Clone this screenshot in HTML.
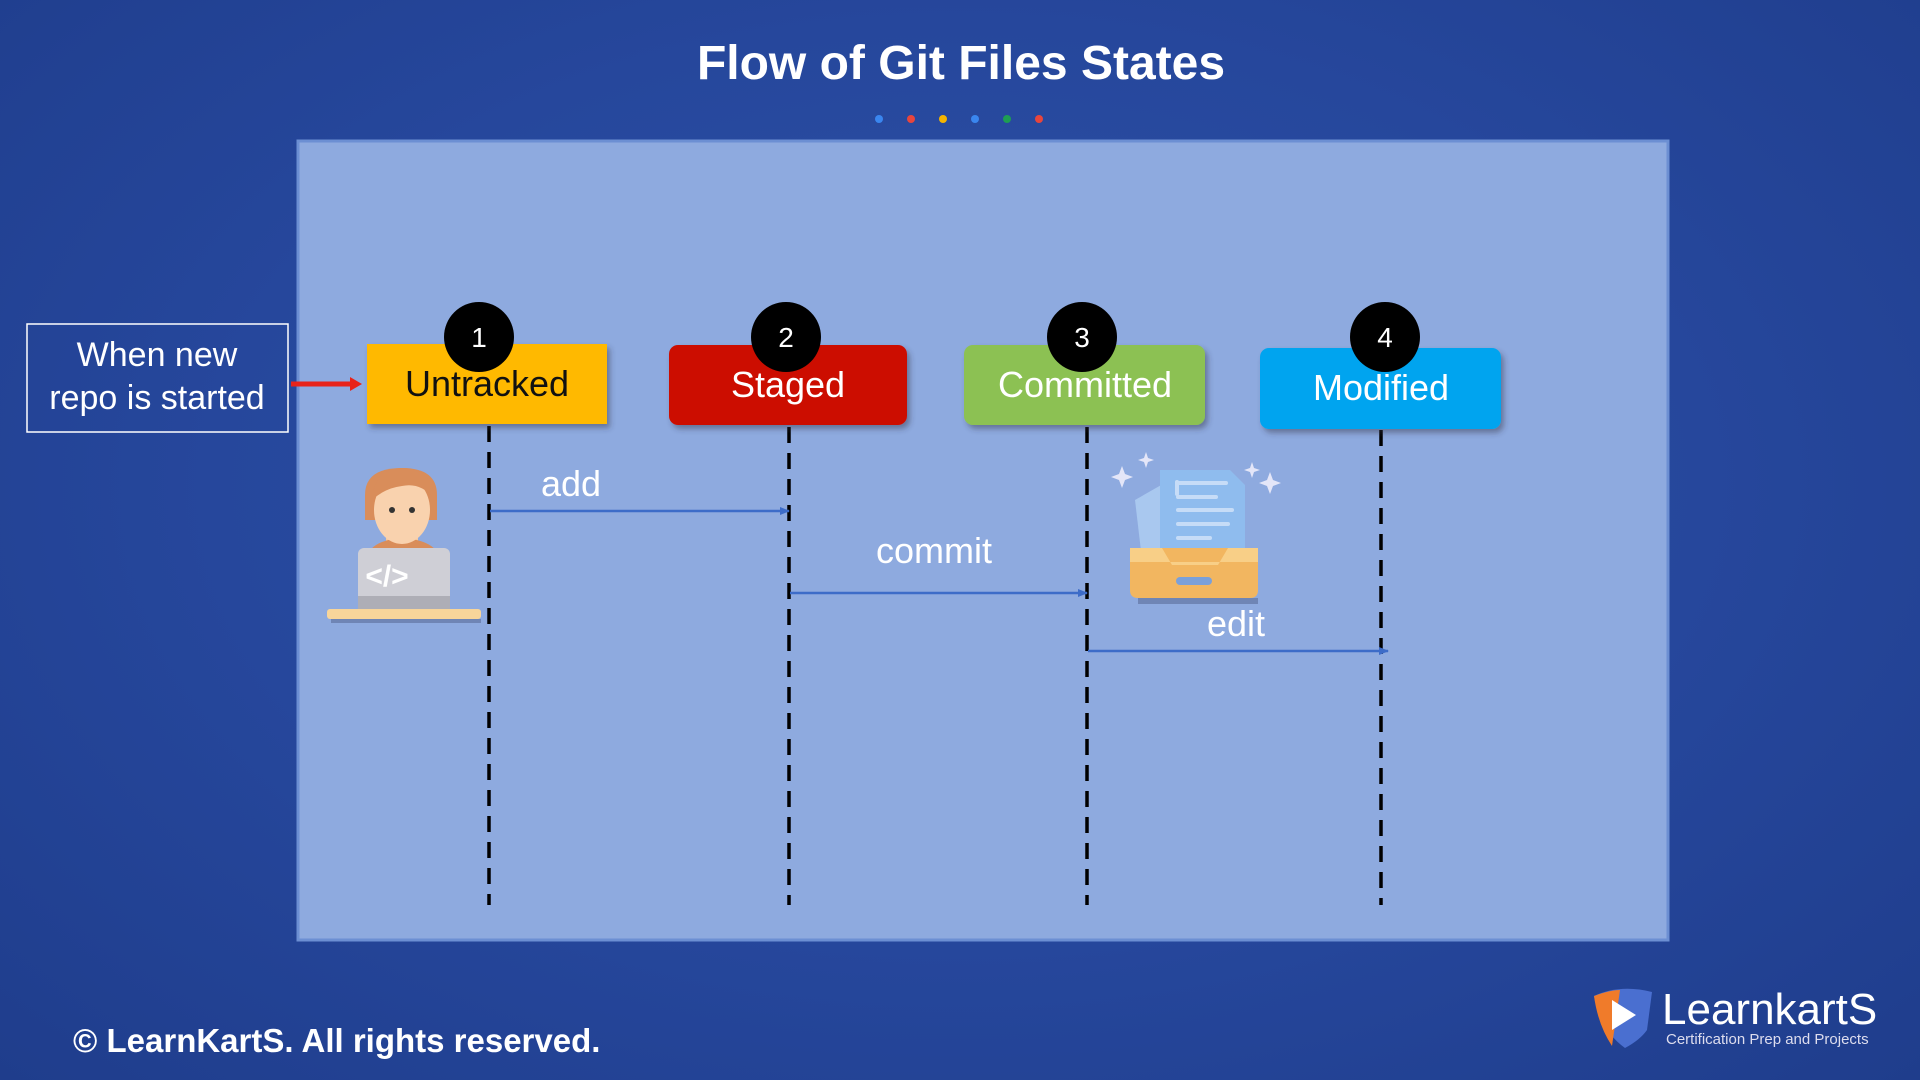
<!DOCTYPE html>
<html><head><meta charset="utf-8"><style>
html,body{margin:0;padding:0;width:1920px;height:1080px;overflow:hidden;}
body{background:radial-gradient(ellipse at 50% 45%,#2d52a8 0%,#26479c 55%,#1f3d8c 100%);font-family:"Liberation Sans",sans-serif;}
svg{position:absolute;left:0;top:0;}
</style></head><body>
<svg width="1920" height="1080" viewBox="0 0 1920 1080" xmlns="http://www.w3.org/2000/svg">
<defs>
<filter id="sh" x="-10%" y="-10%" width="130%" height="140%"><feDropShadow dx="3" dy="4" stdDeviation="3" flood-color="#334" flood-opacity="0.45"/></filter>
<marker id="ah" markerWidth="10" markerHeight="10" refX="9" refY="5" orient="auto" markerUnits="userSpaceOnUse"><path d="M0,1 L10,5 L0,9 z" fill="#3d6cc8"/></marker>
</defs>
<text x="961" y="79" text-anchor="middle" font-family="Liberation Sans, sans-serif" font-weight="bold" font-size="48" fill="#fff">Flow of Git Files States</text>
<circle cx="879" cy="119" r="4" fill="#3a86ef"/>
<circle cx="911" cy="119" r="4" fill="#e8453c"/>
<circle cx="943" cy="119" r="4" fill="#f4b400"/>
<circle cx="975" cy="119" r="4" fill="#3a86ef"/>
<circle cx="1007" cy="119" r="4" fill="#1e9e53"/>
<circle cx="1039" cy="119" r="4" fill="#e8453c"/>
<rect x="298" y="141" width="1370" height="799" fill="#8eaadf" stroke="#6c8fd3" stroke-width="3"/>
<rect x="27" y="324" width="261" height="108" fill="none" stroke="#fff" stroke-width="1.5"/>
<text x="157" y="366" text-anchor="middle" font-size="34" fill="#fff">When new</text>
<text x="157" y="409" text-anchor="middle" font-size="34" fill="#fff">repo is started</text>
<line x1="291" y1="384" x2="352" y2="384" stroke="#e8231a" stroke-width="5"/>
<path d="M350,377 L362,384 L350,391 z" fill="#e8231a"/>
<g stroke="#000" stroke-width="3.5" stroke-dasharray="16,10">
<line x1="489" y1="426" x2="489" y2="905"/>
<line x1="789" y1="427" x2="789" y2="905"/>
<line x1="1087" y1="427" x2="1087" y2="905"/>
<line x1="1381" y1="430" x2="1381" y2="905"/>
</g>
<rect x="367" y="344" width="240" height="80" fill="#ffb900" filter="url(#sh)"/>
<rect x="669" y="345" width="238" height="80" rx="9" fill="#cc1100" filter="url(#sh)"/>
<rect x="964" y="345" width="241" height="80" rx="9" fill="#8cc152" filter="url(#sh)"/>
<rect x="1260" y="348" width="241" height="81" rx="9" fill="#00a4ef" filter="url(#sh)"/>
<text x="487" y="396" text-anchor="middle" font-size="36" fill="#111">Untracked</text>
<text x="788" y="397" text-anchor="middle" font-size="36" fill="#fff">Staged</text>
<text x="1085" y="397" text-anchor="middle" font-size="36" fill="#fff">Committed</text>
<text x="1381" y="400" text-anchor="middle" font-size="36" fill="#fff">Modified</text>
<g font-size="28" fill="#fff" text-anchor="middle">
<circle cx="479" cy="337" r="35" fill="#000"/><text x="479" y="347">1</text>
<circle cx="786" cy="337" r="35" fill="#000"/><text x="786" y="347">2</text>
<circle cx="1082" cy="337" r="35" fill="#000"/><text x="1082" y="347">3</text>
<circle cx="1385" cy="337" r="35" fill="#000"/><text x="1385" y="347">4</text>
</g>
<g stroke="#3d6cc8" stroke-width="2.5" marker-end="url(#ah)">
<line x1="490" y1="511" x2="789" y2="511"/>
<line x1="790" y1="593" x2="1087" y2="593"/>
<line x1="1088" y1="651" x2="1388" y2="651"/>
</g>
<g font-size="36" fill="#fff" text-anchor="middle">
<text x="571" y="496">add</text>
<text x="934" y="563">commit</text>
<text x="1236" y="636">edit</text>
</g>
<g>
<path d="M365,495 Q365,468 402,468 Q437,468 437,495 L437,520 L365,520 z" fill="#d98d5a"/>
<rect x="386" y="520" width="32" height="30" fill="#f6c9a0"/>
<path d="M365,560 Q370,540 402,538 Q436,540 441,560 z" fill="#d98d5a"/>
<ellipse cx="402" cy="510" rx="28" ry="34" fill="#f9d2ae"/>
<path d="M372,500 Q375,468 402,468 Q432,468 434,498 Q420,482 402,486 Q385,488 372,500z" fill="#d98d5a"/>
<circle cx="392" cy="510" r="3" fill="#333"/><circle cx="412" cy="510" r="3" fill="#333"/>
<rect x="358" y="548" width="92" height="60" rx="6" fill="#cfcfd6"/>
<rect x="358" y="596" width="92" height="14" fill="#aeaeb6"/>
<text x="387" y="586" font-size="30" fill="#fff" font-weight="bold" text-anchor="middle">&lt;/&gt;</text>
<rect x="327" y="609" width="154" height="10" rx="3" fill="#f8d59a"/>
<rect x="331" y="619" width="150" height="4" fill="#6f85b5"/>
</g>
<g>
<path d="M1135,500 L1170,480 L1185,580 L1145,585z" fill="#a9c8ef"/>
<path d="M1160,470 L1230,470 L1245,485 L1245,575 L1160,575z" fill="#8fbcee"/>
<g stroke="#c6dcf7" stroke-width="4" stroke-linecap="round">
<line x1="1177" y1="482" x2="1177" y2="494"/>
<line x1="1178" y1="483" x2="1226" y2="483"/>
<line x1="1178" y1="497" x2="1216" y2="497"/>
<line x1="1178" y1="510" x2="1232" y2="510"/>
<line x1="1178" y1="524" x2="1228" y2="524"/>
<line x1="1178" y1="538" x2="1210" y2="538"/>
</g>
<path d="M1130,548 L1250,548 Q1258,548 1258,558 L1258,590 Q1258,598 1250,598 L1138,598 Q1130,598 1130,590z" fill="#f2b660"/>
<path d="M1130,548 L1162,548 L1172,565 L1218,565 L1228,548 L1258,548 L1258,562 L1130,562z" fill="#f8cf87"/>
<rect x="1176" y="577" width="36" height="8" rx="4" fill="#7ba0d9"/>
<rect x="1138" y="598" width="120" height="6" fill="#6f85b5"/>
<g fill="#e4e6f8">
<path d="M1122,466 l3,8 8,3 -8,3 -3,8 -3,-8 -8,-3 8,-3z"/>
<path d="M1146,452 l2,6 6,2 -6,2 -2,6 -2,-6 -6,-2 6,-2z"/>
<path d="M1252,462 l2,6 6,2 -6,2 -2,6 -2,-6 -6,-2 6,-2z"/>
<path d="M1270,472 l3,8 8,3 -8,3 -3,8 -3,-8 -8,-3 8,-3z"/>
</g>
</g>
<text x="73" y="1052" font-size="33" font-weight="bold" fill="#fff">© LearnKartS. All rights reserved.</text>
<g>
<path d="M1594,996 Q1620,984 1652,992 L1647,1030 Q1640,1040 1625,1048 Q1600,1030 1594,996z" fill="#4a6fd0"/>
<path d="M1594,996 Q1610,990 1620,990 L1612,1046 Q1598,1025 1594,996z" fill="#f07b2a"/>
<path d="M1612,1000 L1636,1015 L1612,1030z" fill="#fff"/>
</g>
<text x="1662" y="1024" font-size="44" fill="#fff">LearnkartS</text>
<text x="1666" y="1044" font-size="15" fill="#dde">Certification Prep and Projects</text>
</svg>
</body></html>
